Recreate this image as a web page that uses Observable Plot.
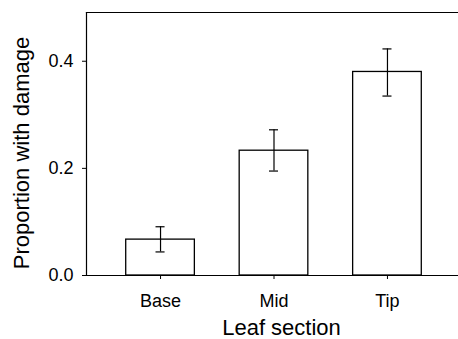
<!DOCTYPE html>
<html>
<head>
<meta charset="utf-8">
<script src="https://cdn.jsdelivr.net/npm/d3@7"></script>
<script src="https://cdn.jsdelivr.net/npm/@observablehq/plot@0.6"></script>
<style>
  html, body { margin: 0; padding: 0; background: #fff; }
  svg { display: block; }
</style>
</head>
<body>
<div id="chart"></div>
<script>
const sections = ["Base", "Mid", "Tip"];
const means = [0.067, 0.233, 0.380];
const lower = [0.044, 0.195, 0.335];
const upper = [0.091, 0.272, 0.423];
const yTicks = [0, 0.2, 0.4];
const xTitle = "Leaf section";
const yTitle = "Proportion with damage";

const data = sections.map((s, i) => ({section: s, mean: means[i], lo: lower[i], hi: upper[i]}));

const font = "'Liberation Sans', Arial, Helvetica, sans-serif";

const chart = Plot.plot({
  width: 458,
  height: 339,
  marginTop: 12,
  marginBottom: 64,
  marginLeft: 86,
  marginRight: 0,
  style: {fontFamily: font, background: "white", color: "black"},
  x: {type: "band", domain: sections, range: [86, 461], paddingInner: 0.395, paddingOuter: 0.35, round: false},
  y: {domain: [0, 0.491]},
  marks: [
    Plot.barY(data, {x: "section", y: "mean", fill: "white", stroke: "black", strokeWidth: 1.3}),
    Plot.ruleX(data, {x: "section", y1: "lo", y2: "hi", stroke: "black", strokeWidth: 1.2}),
    Plot.tickY(data, {x: "section", y: "lo", stroke: "black", strokeWidth: 1.2, insetLeft: 29.8, insetRight: 29.8}),
    Plot.tickY(data, {x: "section", y: "hi", stroke: "black", strokeWidth: 1.2, insetLeft: 29.8, insetRight: 29.8}),
    Plot.frame({anchor: "top", stroke: "black", strokeWidth: 1.2}),
    Plot.frame({anchor: "left", stroke: "black", strokeWidth: 1.2}),
    Plot.frame({anchor: "bottom", stroke: "black", strokeWidth: 1.2}),
    Plot.axisY({ticks: yTicks, tickFormat: d3.format(".1f"), tickSize: 4, tickPadding: 9, fontSize: 18, label: null, stroke: "black"}),
    Plot.axisX({tickSize: 4, tickPadding: 15, fontSize: 18, label: null, stroke: "black"}),
    Plot.text([xTitle], {frameAnchor: "bottom", textAnchor: "middle", lineAnchor: "bottom", dx: 9, dy: 59, fontSize: 22, fill: "black"}),
    Plot.text([yTitle], {frameAnchor: "left", textAnchor: "middle", lineAnchor: "bottom", rotate: -90, dx: -57.5, dy: 9, fontSize: 22, fill: "black"})
  ]
});
document.getElementById("chart").appendChild(chart);
</script>
</body>
</html>
